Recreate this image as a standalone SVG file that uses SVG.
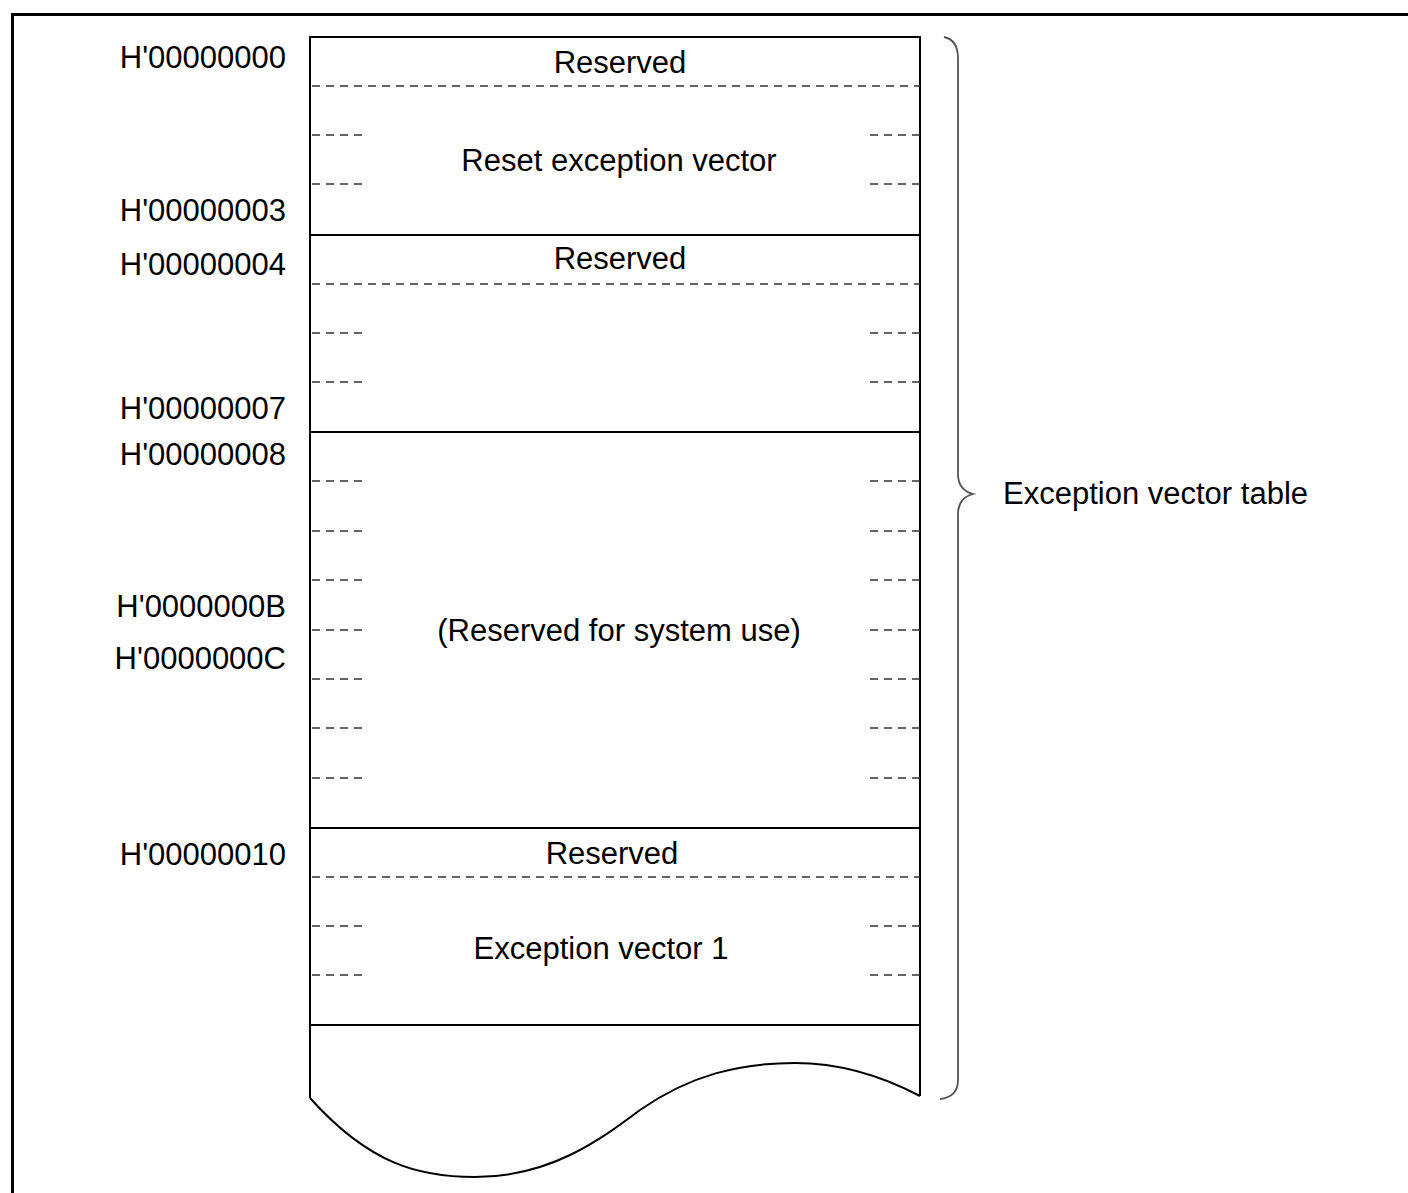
<svg xmlns="http://www.w3.org/2000/svg" width="1408" height="1193" viewBox="0 0 1408 1193">
<style>
text{font-family:"Liberation Sans",Arial,sans-serif;font-size:31px;fill:#000}
.addr{text-anchor:end}
.mid{text-anchor:middle}
.box{fill:none;stroke:#000;stroke-width:2}
.dash{stroke:#333;stroke-width:1.4;stroke-dasharray:8 6;fill:none}
.brace{fill:none;stroke:#555;stroke-width:1.8}
</style>
<rect width="1408" height="1193" fill="#fff"/>
<path d="M12.5,1193 V14.5 H1408" fill="none" stroke="#000" stroke-width="3"/>
<g id="addresses">
<text class="addr" x="286" y="68">H'00000000</text>
<text class="addr" x="286" y="221">H'00000003</text>
<text class="addr" x="286" y="275">H'00000004</text>
<text class="addr" x="286" y="419">H'00000007</text>
<text class="addr" x="286" y="465">H'00000008</text>
<text class="addr" x="286" y="617">H'0000000B</text>
<text class="addr" x="286" y="669">H'0000000C</text>
<text class="addr" x="286" y="865">H'00000010</text>
</g>
<g id="table">
<path class="box" d="M310,1098 V37 H920 V1096"/>
<path class="box" d="M310,1098 C370,1165 420,1177 475,1177 C550,1177 600,1140 640,1110 C690,1075 740,1063 795,1063 C840,1063 880,1075 920,1096"/>
<line class="box" x1="310" y1="235" x2="920" y2="235"/>
<line class="box" x1="310" y1="432" x2="920" y2="432"/>
<line class="box" x1="310" y1="828" x2="920" y2="828"/>
<line class="box" x1="310" y1="1025" x2="920" y2="1025"/>
</g>
<g id="dashes">
<line class="dash" x1="312" y1="86" x2="920" y2="86"/>
<line class="dash" x1="312" y1="284" x2="920" y2="284"/>
<line class="dash" x1="312" y1="877" x2="920" y2="877"/>
<path class="dash" d="M312,135 H362 M312,184 H362 M312,333 H362 M312,382 H362 M312,481 H362 M312,531 H362 M312,580 H362 M312,630 H362 M312,679 H362 M312,728 H362 M312,778 H362 M312,926 H362 M312,975 H362"/>
<path class="dash" d="M870,135 H920 M870,184 H920 M870,333 H920 M870,382 H920 M870,481 H920 M870,531 H920 M870,580 H920 M870,630 H920 M870,679 H920 M870,728 H920 M870,778 H920 M870,926 H920 M870,975 H920"/>
</g>
<g id="labels">
<text class="mid" x="620" y="73">Reserved</text>
<text class="mid" x="619" y="171">Reset exception vector</text>
<text class="mid" x="620" y="269">Reserved</text>
<text class="mid" x="619" y="641">(Reserved for system use)</text>
<text class="mid" x="612" y="864">Reserved</text>
<text class="mid" x="601" y="959">Exception vector 1</text>
</g>
<g id="brace">
<path class="brace" d="M944,37 Q958,40 958,58 V474 Q958,490 973,494 Q958,498 958,514 V1080 Q958,1097 940,1099"/>
<text x="1003" y="504">Exception vector table</text>
</g>
</svg>
